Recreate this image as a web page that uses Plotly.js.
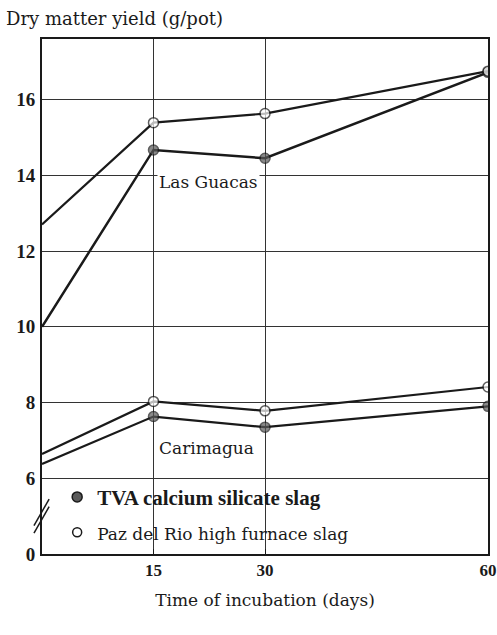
<!DOCTYPE html>
<html><head><meta charset="utf-8">
<script src="https://cdn.plot.ly/plotly-3.0.1.min.js"></script>
<style>body{margin:0;background:#fff}#chart{width:497px;height:635px}</style>
</head><body><div id="chart"></div>
<script>
const days = [0, 15, 30, 60];
const lasGuacasTVA = [10.0, 14.67, 14.45, 16.72];
const lasGuacasPaz = [12.7, 15.39, 15.63, 16.75];
const carimaguaTVA = [6.38, 7.63, 7.35, 7.9];
const carimaguaPaz = [6.64, 8.03, 7.78, 8.41];
const yTickVals = [4, 6, 8, 10, 12, 14, 16];
const yTickText = ['0', '6', '8', '10', '12', '14', '16'];
const xTickVals = [15, 30, 60];
const seriesNames = ['TVA calcium silicate slag', 'Paz del Rio high furnace slag'];

const ink = '#1a1a1a';
const msize = [0, 10, 10, 10];
function tr(y, filled, w) {
  return {x: days, y: y, mode: 'lines+markers', showlegend: false,
    line: {color: ink, width: w},
    marker: {size: msize, color: filled ? '#5a5a5a' : '#ffffff', line: {color: ink, width: 1.5}}};
}
const serif = 'Liberation Serif, Times New Roman, serif';
const wide = 'DejaVu Serif, serif';
const data = [
  tr(lasGuacasTVA, true, 2.5), tr(lasGuacasPaz, false, 2.2),
  tr(carimaguaTVA, true, 2.2), tr(carimaguaPaz, false, 2.2),
  {x: [null], y: [null], mode: 'markers', legendgroup: 'a',
   name: '<b>' + seriesNames[0] + '</b>',
   marker: {size: 10, color: '#5a5a5a', line: {color: ink, width: 1.5}}},
  {x: [null], y: [null], mode: 'markers', legendgroup: 'b',
   name: '<span style="font-family:DejaVu Serif;font-size:17px">' + seriesNames[1] + '</span>',
   marker: {size: 9, color: '#ffffff', line: {color: ink, width: 1.5}}}
];
const layout = {
  width: 497, height: 635,
  margin: {l: 42, r: 9, t: 39, b: 81},
  paper_bgcolor: '#fff', plot_bgcolor: '#fff',
  showlegend: true,
  legend: {x: 0.034, y: 0.15, xanchor: 'left', yanchor: 'top', bgcolor: 'rgba(0,0,0,0)',
    font: {family: serif, size: 21, color: ink}, tracegroupgap: 5, traceorder: 'grouped',
    itemwidth: 30},
  xaxis: {range: [0, 60], tickvals: xTickVals, showgrid: true, gridcolor: '#333', gridwidth: 1,
    zeroline: false, showline: true, linecolor: ink, linewidth: 2, mirror: true,
    ticks: 'inside', ticklen: 5, tickcolor: ink, ticklabeloverflow: 'allow',
    tickfont: {family: serif, size: 17, color: ink, weight: 'bold'},
    title: {text: 'Time of incubation (days)', font: {family: wide, size: 17, color: ink}, standoff: 15}},
  yaxis: {range: [4, 17.6], tickvals: yTickVals, ticktext: yTickText, showgrid: true, gridcolor: '#333', gridwidth: 1,
    zeroline: false, showline: true, linecolor: ink, linewidth: 2, mirror: true, ticks: '', ticklabelstandoff: 1,
    tickfont: {family: serif, size: 19, color: ink, weight: 'bold'}},
  annotations: [
    {xref: 'paper', yref: 'paper', x: -0.085, y: 1.0, yshift: 21, xanchor: 'left', yanchor: 'middle', showarrow: false,
     text: 'Dry matter yield (g/pot)', font: {family: wide, size: 18, color: ink}},
    {x: 15.5, y: 13.82, xanchor: 'left', yanchor: 'middle', showarrow: false, text: 'Las Guacas',
     bgcolor: '#fff', borderpad: 1, font: {family: wide, size: 17, color: ink}},
    {x: 15.5, y: 6.79, xanchor: 'left', yanchor: 'middle', showarrow: false, text: 'Carimagua',
     bgcolor: '#fff', borderpad: 1, font: {family: wide, size: 17, color: ink}}
  ],
  shapes: [
    {type: 'line', xref: 'paper', yref: 'y', x0: -0.018, y0: 4.55, x1: 0.016, y1: 5.25, line: {color: ink, width: 1.5}},
    {type: 'line', xref: 'paper', yref: 'y', x0: -0.018, y0: 4.75, x1: 0.016, y1: 5.45, line: {color: ink, width: 1.5}}
  ]
};
Plotly.newPlot('chart', data, layout, {displayModeBar: false, staticPlot: true});
</script></body></html>
